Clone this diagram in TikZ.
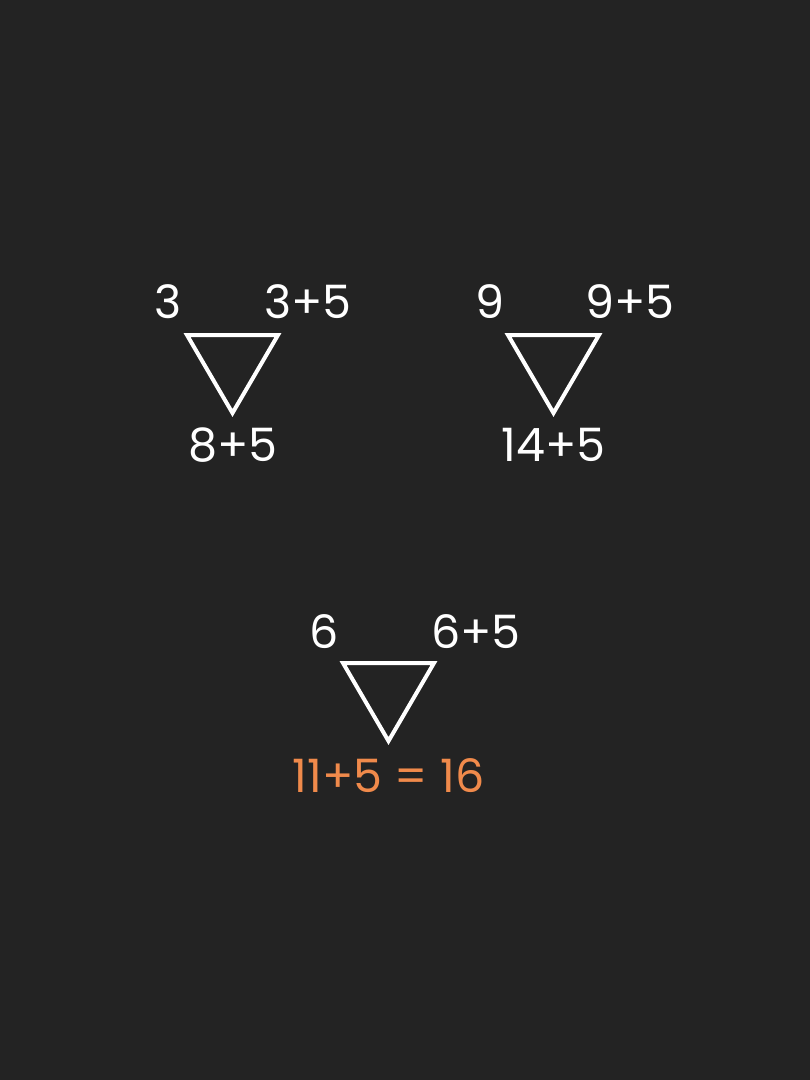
\documentclass[tikz,border=0pt]{standalone}
\usepackage{fontspec}
\setmainfont{Poppins}
\usetikzlibrary{positioning}
\definecolor{bgdark}{HTML}{232323}
\definecolor{ansorange}{HTML}{F08A4B}

\begin{document}
\begin{tikzpicture}[x=1pt, y=-1pt,
      num/.style={text=white, inner sep=0pt, font=\fontsize{46}{46}\selectfont},
      result/.style={num, text=ansorange},
      tri/.style={draw=white, line width=4pt, line join=miter}]
    \fill[bgdark] (0,0) rectangle (810,1080);
    \useasboundingbox (0,0) rectangle (810,1080);
    % triangles
    \draw[tri] (187,335) -- (278,335) -- (232.5,413) -- cycle;
    \draw[tri] (508,335) -- (599,335) -- (553.5,413) -- cycle;
    \draw[tri] (343,663) -- (434,663) -- (388.5,741) -- cycle;
    % first triangle
    \node[num] (a) at (168.5,302) {3};
    \node[num] (b) at (308,302) {3+5};
    \node[num] (c) at (233,445) {8+5};
    % second triangle
    \node[num] (d) at (490,302) {9};
    \node[num] (e) at (630,302) {9+5};
    \node[num] (f) at (553.5,445) {14+5};
    % third triangle
    \node[num] (g) at (324,632) {6};
    \node[num] (h) at (476,632) {6+5};
    \node[result] (ans) at (388.5,776) {11+5 = 16};
  \end{tikzpicture}
\end{document}
